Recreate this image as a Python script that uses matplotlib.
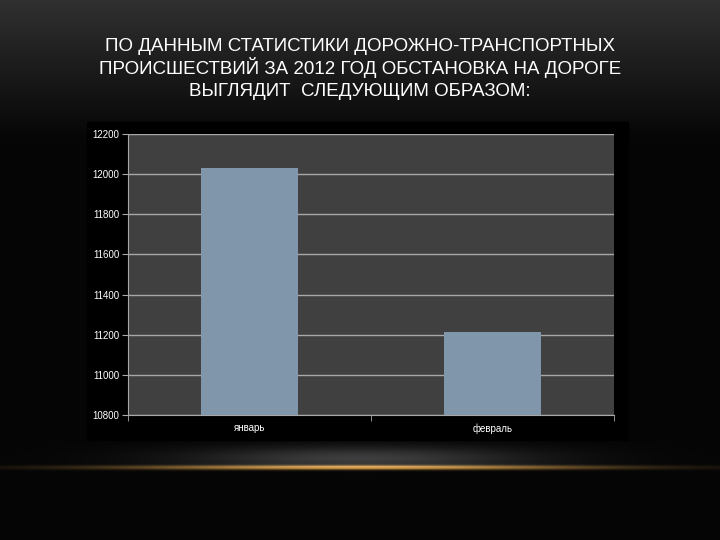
import numpy as np
import matplotlib
matplotlib.use("Agg")
import matplotlib.pyplot as plt
from matplotlib.patches import Rectangle

# data
months = ["январь", "февраль"]
accidents = [12030, 11215]
y_ticks = [10800, 11000, 11200, 11400, 11600, 11800, 12000, 12200]
title_lines = ["ПО ДАННЫМ СТАТИСТИКИ ДОРОЖНО-ТРАНСПОРТНЫХ",
               "ПРОИСШЕСТВИЙ ЗА 2012 ГОД ОБСТАНОВКА НА ДОРОГЕ",
               "ВЫГЛЯДИТ  СЛЕДУЮЩИМ ОБРАЗОМ:"]

W, H = 720, 540
fig = plt.figure(figsize=(W / 100, H / 100), dpi=100)

# slide background: dark gradient at the top, golden glow line near the bottom
yy, xx = np.mgrid[0:H, 0:W].astype(float)
base = 0.02 + 0.17 * np.clip(1 - yy / 140, 0, 1)
img = np.dstack([base, base, base])
grey = 0.22 * np.exp(-((yy - 458) / 12) ** 2) * np.exp(-((xx - 360) / 170) ** 2) * (yy < 467)
img += grey[..., None]
glow = np.exp(-((yy - 467) / 2.2) ** 2) * np.exp(-((xx - 360) / 230) ** 2)
img[..., 0] += 0.85 * glow
img[..., 1] += 0.62 * glow
img[..., 2] += 0.28 * glow
img = np.clip(img, 0, 1)

bg = fig.add_axes([0, 0, 1, 1])
bg.imshow(img, extent=[0, W, H, 0], aspect="auto")
bg.add_patch(Rectangle((87, 122), 541, 318, color="black"))
bg.set_xlim(0, W)
bg.set_ylim(H, 0)
bg.axis("off")

# title, one line at a time on fixed baselines so the spacing stays even
for i, line in enumerate(title_lines):
    bg.text(360, 51 + 22.5 * i, line, ha="center", va="baseline", color="white",
            fontsize=13.5, family="Liberation Sans")

ax = fig.add_axes([128 / W, 1 - 415 / H, 486 / W, 281 / H])
ax.set_facecolor("#404040")
x = np.arange(len(months))
ax.bar(x, accidents, width=0.4, color="#7f96ab", zorder=3)
ax.set_xlim(-0.5, len(months) - 0.5)
ax.set_ylim(y_ticks[0], y_ticks[-1])
ax.set_yticks(y_ticks)
ax.yaxis.grid(True, color="#a8a8a8", linewidth=1, zorder=0)
ax.set_xticks(x)
ax.set_xticklabels(months)
ax.set_xticks(np.arange(-0.5, len(months)), minor=True)
ax.tick_params(axis="x", which="major", length=0, pad=6)
ax.tick_params(axis="x", which="minor", length=4, color="#a8a8a8")
ax.tick_params(axis="y", length=4, color="#a8a8a8", pad=2)
ax.tick_params(labelsize=7, labelcolor="white")
for lab in ax.get_xticklabels() + ax.get_yticklabels():
    lab.set_family("Liberation Sans")
for side in ["top", "right"]:
    ax.spines[side].set_visible(False)
for side in ["left", "bottom"]:
    ax.spines[side].set_color("#a8a8a8")

fig.savefig("out.png", dpi=100, facecolor="black")
